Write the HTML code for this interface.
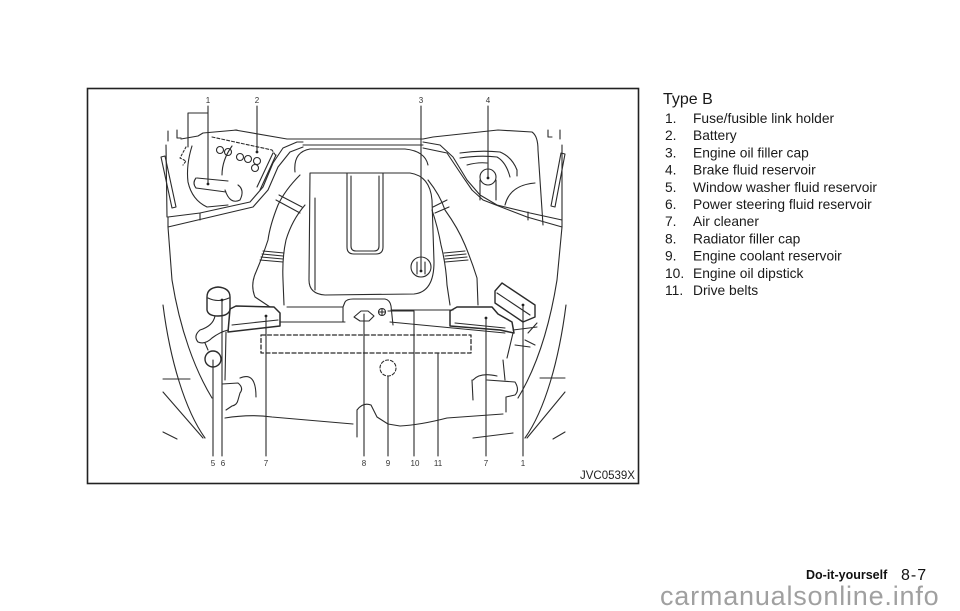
<!DOCTYPE html>
<html>
<head>
<meta charset="utf-8">
<style>
html,body{margin:0;padding:0;background:#fff;width:960px;height:611px;overflow:hidden}
svg{display:block}
</style>
</head>
<body>
<svg width="960" height="611" viewBox="0 0 960 611" xmlns="http://www.w3.org/2000/svg">
<rect x="0" y="0" width="960" height="611" fill="#fff"/>

<!-- frame -->
<rect x="87.5" y="88.5" width="551" height="395" fill="none" stroke="#222" stroke-width="1.6"/>

<g fill="none" stroke="#2b2b2b" stroke-width="1.1" stroke-linejoin="round" stroke-linecap="round">
  <!-- top hood lines -->
  <path d="M235,130 L287,139 L423,139 L433,137 L498,130 L532,132 Q538,136 538,150 L543,225"/>
  <path d="M303,145 H423"/>
  <!-- brackets -->
  <path d="M168,131 V141 M177,130 V138 H181"/>
  <path d="M548,130 V137 H552 M560,130 V139"/>
  <!-- bay side lines -->
  <path d="M166,145 L167,217"/>
  <path d="M168,227 L172,280 C180,330 195,370 212,398"/>
  <path d="M163,305 C170,360 185,410 205,438"/>
  <path d="M163,379 H190 M163,392 L203,438 M163,432 L177,439"/>
  <path d="M562,145 L562,220"/>
  <path d="M562,227 L557,280 C549,330 535,370 518,398"/>
  <path d="M566,305 C559,360 545,410 525,438"/>
  <path d="M540,378 H565 M565,392 L527,438 M565,432 L553,439"/>
  <!-- strut rods -->
  <path d="M161,157 L172,208 L176,207 L165,156 Z"/>
  <path d="M561,153 L551,206 L555,207 L565,154 Z"/>

  <!-- left cowl strip -->
  <path d="M168,217 L200,213 L250,202 L263,187 L273,163 L283,148 L297,142 L303,142"/>
  <path d="M168,227 L253,207 L268,190 L278,167 L290,152 L303,147"/>
  <path d="M168,217 V227 M200,213 V220"/>
  <!-- right cowl strip -->
  <path d="M423,142 L440,145 L453,157 L467,180 L480,195 L497,205 L530,213 L562,220"/>
  <path d="M423,148 L447,153 L463,177 L472,190 L483,200 L527,217 L562,227"/>
  <path d="M528,212 V220 M562,220 V227"/>

  <!-- left battery compartment -->
  <path d="M181,139 L198,136 L203,133 L237,130"/>
  <path d="M192,146 Q186,165 188,182 Q192,200 207,207 L228,205"/>
  <path d="M232,146 Q222,160 222,175"/>
  <path d="M197,178 L228,181 M196,188 L226,192 M196,178 Q192,183 196,188"/>
  <path d="M225,190 Q230,205 240,200 Q245,190 238,185"/>
  <path d="M257,187 L273,153 M260,190 L276,155"/>
  <circle cx="220" cy="150" r="3.5"/>
  <circle cx="228" cy="152" r="3.5"/>
  <circle cx="240" cy="157" r="3.5"/>
  <circle cx="248" cy="159" r="3.5"/>
  <circle cx="257" cy="161" r="3.5"/>
  <circle cx="255" cy="168" r="3.5"/>
  <path d="M212,137 L272,150 L276,156" stroke-dasharray="3 2"/>
  <path d="M186,147 L180,158 L186,161 L183,165" stroke-dasharray="2 2"/>

  <!-- right compartment -->
  <path d="M460,153 Q480,150 500,152 Q512,157 517,170 L517,176"/>
  <path d="M460,158 Q480,155 497,157 Q506,162 510,177"/>
  <path d="M467,165 Q478,162 487,163"/>
  <path d="M505,205 Q510,185 535,183"/>
  <circle cx="488" cy="177" r="8"/>
  <path d="M480,180 V200 M496,180 V200"/>

  <!-- plenum surround -->
  <path d="M295,172 Q293,152 310,149 L405,149 Q425,151 428,165"/>
  <!-- engine cover -->
  <path d="M310,173 L410,173 Q430,176 432,200 L434,262 Q434,292 414,294 L325,295 Q309,294 309,280 Z"/>
  <path d="M315,198 V290"/>
  <path d="M347,173 V247 Q347,254 354,254 L376,254 Q383,254 383,247 V173"/>
  <path d="M351,176 V246 Q351,251 356,251 L374,251 Q379,251 379,246 V176"/>
  <!-- oil filler cap -->
  <circle cx="421" cy="267" r="10"/>
  <path d="M417,262 V274 M425,262 V274"/>

  <!-- left duct -->
  <path d="M300,175 Q285,190 278,205 Q270,225 268,240 Q262,258 256,272 Q250,285 255,297 L270,307"/>
  <path d="M305,205 Q292,220 286,240 Q282,258 283,280 L284,305"/>
  <path d="M276,200 L300,213 M279,195 L302,207"/>
  <path d="M263,251 L284,253 M262,254 L283,256 M261,257 L283,259 M260,260 L283,262"/>
  <!-- right duct -->
  <path d="M428,180 Q440,195 445,210 Q458,228 465,245 Q472,262 477,278 L478,305"/>
  <path d="M432,210 Q438,228 441,245 Q446,265 447,285 L450,305"/>
  <path d="M433,207 L447,200 M435,213 L449,207"/>
  <path d="M444,253 L465,251 M445,256 L466,254 M445,259 L467,257 M445,262 L468,260"/>

  <!-- below engine -->
  <path d="M287,307 H343 M343,307 L345,302 Q347,299 353,299 L385,299 Q390,300 391,306 L393,325 M343,307 L343,322"/>
  <path d="M391,310 H453"/>
  <polygon points="354,317 361,311 368,311 374,316 369,321 360,321"/>
  <circle cx="382" cy="312" r="3.5"/>
  <path d="M379,312 H385 M382,309 V315"/>

  <!-- left air cleaner -->
  <path d="M230,309 L236,306 L274,307 L280,313 L280,326 L228,332 Z" stroke-width="1.5"/>
  <path d="M232,325 L278,320 M280,322 L345,322"/>
  <!-- right air cleaner -->
  <path d="M450,311 L457,307 L492,307 L498,314 L512,322 L514,333 L500,330 L450,326 Z" stroke-width="1.5"/>
  <path d="M455,323 L505,328 M390,322 L505,333"/>
  <!-- right fuse box -->
  <path d="M495,291 L502,283 L535,305 L535,317 L523,322 L495,303 Z" stroke-width="1.4"/>
  <path d="M497,293 L530,315"/>
  <path d="M513,333 L507,358 M503,360 L505,380"/>
  <path d="M513,330 L537,327 M515,345 L530,347 M528,333 L537,323 M525,340 L535,345"/>

  <!-- power steering reservoir -->
  <path d="M207,297 Q207,288 218,287 Q230,288 230,297 L230,310 Q228,316 218,316 Q208,316 207,310 Z" stroke-width="1.4"/>
  <path d="M208,298 Q218,303 229,298"/>
  <path d="M215,316 Q213,326 200,330 Q193,336 198,342 Q205,345 212,338 Q220,332 228,330"/>
  <path d="M205,343 L208,350"/>
  <!-- washer cap -->
  <circle cx="213" cy="359" r="8" stroke-width="1.4"/>
  <path d="M226,332 L225,380"/>

  <!-- drive belts dashed -->
  <rect x="261" y="335" width="210" height="18" stroke-dasharray="4 2.5" stroke-width="1.3"/>
  <!-- coolant reservoir dashed -->
  <circle cx="388" cy="368" r="8" stroke-dasharray="3 2"/>

  <!-- lower left bracket -->
  <path d="M222,384 L238,383 Q244,388 240,393 L238,400 Q237,405 232,406 L226,410"/>
  <path d="M240,378 Q256,371 256,397"/>
  <!-- lower right bracket -->
  <path d="M473,380 Q480,372 497,376"/>
  <path d="M487,380 L515,382 Q520,390 515,395 L506,397 V412"/>
  <path d="M472,380 L473,400"/>

  <!-- front cross lines -->
  <path d="M225,418 Q250,414 272,417 L353,424"/>
  <path d="M357,437 V410 Q363,402 371,405 L377,417 L388,424 L400,426 Q420,425 447,418 L503,414"/>
  <path d="M473,438 L513,433"/>

  <!-- leader lines -->
  <path d="M208,106 V184 M208,113 H188 V147"/>
  <path d="M257,106 V152"/>
  <path d="M421,106 V271"/>
  <path d="M488,106 V178"/>
  <path d="M213,456 V360"/>
  <path d="M222,456 V300"/>
  <path d="M266,456 V316"/>
  <path d="M364,456 V314"/>
  <path d="M388,456 V376"/>
  <path d="M414,456 V311 H388"/>
  <path d="M438,456 V353"/>
  <path d="M486,456 V318"/>
  <path d="M523,456 V305"/>
</g>
<g fill="#222">
  <circle cx="208" cy="184" r="1.4"/>
  <circle cx="257" cy="152" r="1.4"/>
  <circle cx="421" cy="271" r="1.4"/>
  <circle cx="488" cy="178" r="1.4"/>
  <circle cx="222" cy="300" r="1.4"/>
  <circle cx="266" cy="316" r="1.4"/>
  <circle cx="486" cy="318" r="1.4"/>
  <circle cx="523" cy="305" r="1.4"/>
</g>

<!-- diagram labels -->
<g font-family="Liberation Sans, sans-serif" font-size="8" fill="#333" text-anchor="middle">
  <text x="208" y="103">1</text>
  <text x="257" y="103">2</text>
  <text x="421" y="103">3</text>
  <text x="488" y="103">4</text>
  <text x="213" y="466">5</text>
  <text x="223" y="466">6</text>
  <text x="266" y="466">7</text>
  <text x="364" y="466">8</text>
  <text x="388" y="466">9</text>
  <text x="415" y="466">10</text>
  <text x="438" y="466">11</text>
  <text x="486" y="466">7</text>
  <text x="523" y="466">1</text>
</g>
<text x="580" y="479" font-family="Liberation Sans, sans-serif" font-size="11.5" fill="#222">JVC0539X</text>

<!-- right text list -->
<g font-family="Liberation Sans, sans-serif" fill="#1a1a1a">
  <text x="663" y="104" font-size="16">Type B</text>
  <g font-size="13.8">
    <text x="665" y="123">1.</text><text x="693" y="123">Fuse/fusible link holder</text>
    <text x="665" y="140.2">2.</text><text x="693" y="140.2">Battery</text>
    <text x="665" y="157.4">3.</text><text x="693" y="157.4">Engine oil filler cap</text>
    <text x="665" y="174.6">4.</text><text x="693" y="174.6">Brake fluid reservoir</text>
    <text x="665" y="191.8">5.</text><text x="693" y="191.8">Window washer fluid reservoir</text>
    <text x="665" y="209">6.</text><text x="693" y="209">Power steering fluid reservoir</text>
    <text x="665" y="226.2">7.</text><text x="693" y="226.2">Air cleaner</text>
    <text x="665" y="243.4">8.</text><text x="693" y="243.4">Radiator filler cap</text>
    <text x="665" y="260.6">9.</text><text x="693" y="260.6">Engine coolant reservoir</text>
    <text x="665" y="277.8">10.</text><text x="693" y="277.8">Engine oil dipstick</text>
    <text x="665" y="295">11.</text><text x="693" y="295">Drive belts</text>
  </g>
</g>

<!-- footer -->
<text x="806" y="579" font-family="Liberation Sans, sans-serif" font-size="12.5" font-weight="bold" fill="#111">Do-it-yourself</text>
<text x="901" y="580" font-family="Liberation Sans, sans-serif" font-size="16" letter-spacing="1" fill="#111">8-7</text>

<!-- watermark -->
<text x="660" y="605" font-family="Liberation Sans, sans-serif" font-size="27" letter-spacing="0.8" fill="#a0a0a0">carmanualsonline.info</text>
</svg>
</body>
</html>
